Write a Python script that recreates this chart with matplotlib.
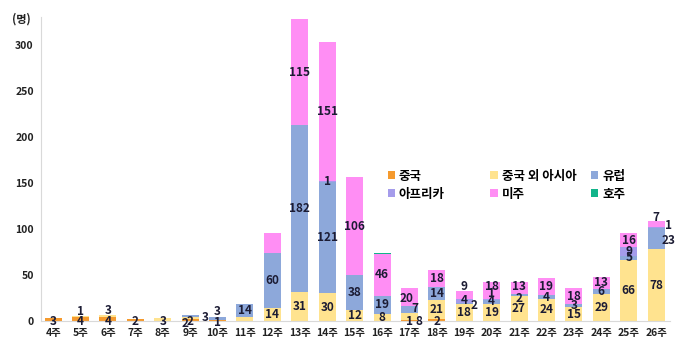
import numpy as np
import matplotlib
matplotlib.use("Agg")
import matplotlib.pyplot as plt

plt.rcParams['font.family'] = ['Noto Sans CJK KR', 'DejaVu Sans']

weeks = ["%d주" % w for w in range(4, 27)]
series = ["중국", "중국 외 아시아", "유럽", "아프리카", "미주", "호주"]
colors = ["#F59A2E", "#FFE38F", "#8DA8DA", "#A59CEB", "#FF8EF4", "#12B48A"]

china  = [3, 4, 4, 2, 0, 2, 1, 0, 0, 0, 0, 0, 0, 1, 2, 0, 0, 0, 0, 0, 0, 0, 0]
asia   = [0, 1, 3, 0, 3, 2, 0, 4, 14, 31, 30, 12, 8, 8, 21, 18, 19, 27, 24, 15, 29, 66, 78]
europe = [0, 0, 0, 0, 0, 3, 3, 14, 60, 182, 121, 38, 19, 7, 14, 2, 4, 2, 4, 3, 6, 5, 23]
africa = [0, 0, 0, 0, 0, 0, 0, 0, 0, 0, 1, 0, 0, 0, 0, 4, 1, 0, 0, 0, 0, 9, 1]
america = [0, 0, 0, 0, 0, 0, 0, 0, 22, 115, 151, 106, 46, 20, 18, 9, 18, 13, 19, 18, 13, 16, 7]
oceania = [0, 0, 0, 0, 0, 0, 0, 0, 0, 0, 0, 0, 1, 0, 0, 0, 0, 0, 0, 0, 0, 0, 0]

data = [china, asia, europe, africa, america, oceania]
# segments drawn without a label in the original
no_label = {(1, 7), (4, 8), (5, 12)}
# labels moved off the segment centre: (series, week index) -> (dx, dy) in data units
offsets = {(0, 0): (0, -1.5), (0, 1): (0, -2), (1, 1): (0, 5.5), (0, 2): (0, -2),
           (1, 2): (0, 5.5), (0, 3): (0, -1), (1, 4): (0, -1.5),
           (0, 5): (-0.2, -4), (1, 5): (0, -3), (2, 5): (0.55, -1.5),
           (0, 6): (0, -2.5), (2, 6): (0, 7.5),
           (0, 13): (0, -1.5), (1, 13): (0.35, -6), (2, 13): (0.2, 1.5), (4, 13): (-0.1, -2),
           (0, 14): (0, -2),
           (2, 15): (0.35, -2.5), (4, 15): (0, 8.5),
           (3, 16): (0, 6.5), (4, 16): (0, 4),
           (2, 17): (0, -3), (4, 17): (0, 1.5),
           (4, 22): (0, 7.5), (3, 22): (0.45, 2.5), (2, 22): (0.45, -2.5)}

fig = plt.figure(figsize=(6.8, 3.52), dpi=100)
ax = fig.add_axes([0.06, 0.088, 0.925, 0.863])

x = np.arange(len(weeks))
bottom = np.zeros(len(weeks))
handles = []
for s, vals in enumerate(data):
    vals = np.array(vals, dtype=float)
    b = ax.bar(x, vals, 0.62, bottom=bottom, color=colors[s], label=series[s])
    handles.append(b)
    for i, v in enumerate(vals):
        if v <= 0 or (s, i) in no_label or s == 5:
            continue
        dx, dy = offsets.get((s, i), (0, 0))
        ax.text(x[i] + dx, bottom[i] + v / 2 + dy, "%d" % v, ha="center", va="center",
                fontsize=8.5, fontweight="bold", color="#1c1c34")
    bottom += vals

ax.set_xlim(-0.45, len(weeks) - 0.5)
ax.set_ylim(0, 330)
ax.set_yticks(range(0, 301, 50))
ax.set_xticks(x)
ax.set_xticklabels(weeks)
for lab in ax.get_xticklabels() + ax.get_yticklabels():
    lab.set_fontweight("bold")
    lab.set_fontsize(7.5)
    lab.set_color("#222222")
ax.tick_params(length=0, pad=5)
for sp in ["top", "right"]:
    ax.spines[sp].set_visible(False)
ax.spines["left"].set_color("#d9d9d9")
ax.spines["bottom"].set_color("#d9d9d9")

fig.text(0.018, 0.935, "(명)", fontsize=8, fontweight="bold", color="#222222")

# legend: three single-column legends placed by hand
cols = [[0, 3], [1, 4], [2, 5]]
xs = [0.570, 0.721, 0.869]
for c, xpos in zip(cols, xs):
    leg = fig.legend([handles[i] for i in c], [series[i] for i in c], ncol=1,
                     loc="center left", bbox_to_anchor=(xpos, 0.474),
                     frameon=False, handlelength=0.6, handleheight=0.6,
                     handletextpad=0.3, labelspacing=0.4, borderpad=0, borderaxespad=0,
                     prop={"weight": "bold", "size": 9})

fig.savefig("out.png", dpi=100)
